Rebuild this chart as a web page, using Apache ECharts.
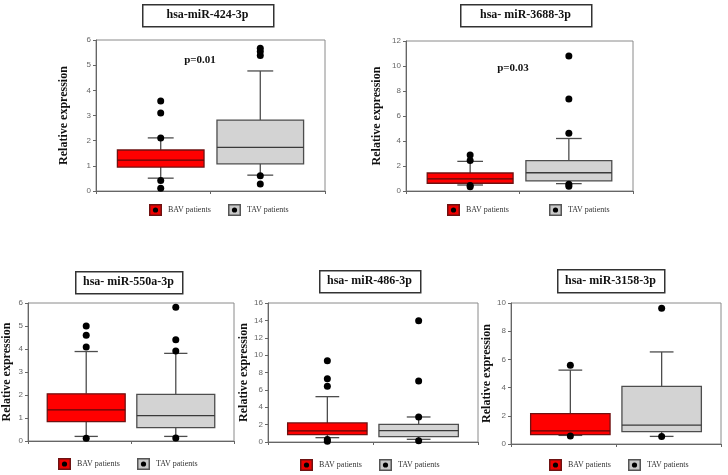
<!DOCTYPE html>
<html><head><meta charset="utf-8">
<script src="https://cdn.jsdelivr.net/npm/echarts@6/dist/echarts.min.js"></script>
<style>html,body{margin:0;padding:0;background:#fff}#c{width:728px;height:475px}</style>
</head><body><div id="c"></div>
<script>
// ---------------- DATA ----------------
const groups = ['BAV patients', 'TAV patients'];
const titles = ['hsa-miR-424-3p', 'hsa- miR-3688-3p', 'hsa- miR-550a-3p', 'hsa- miR-486-3p', 'hsa- miR-3158-3p'];
const pLabels = ['p=0.01', 'p=0.03', '', '', ''];
const yMax = [6, 12, 6, 16, 10];
const yStep = [1, 2, 1, 2, 2];
const yName = 'Relative expression';

// box stats: [lower whisker, Q1, median, Q3, upper whisker]
const bav424 = [0.51, 0.95, 1.23, 1.63, 2.11];
const tav424 = [0.63, 1.08, 1.73, 2.82, 4.77];
const bavOut424 = [3.58, 3.10, 2.11, 0.42, 0.11];
const tavOut424 = [5.67, 5.54, 5.38, 0.61, 0.28];

const bav3688 = [0.48, 0.62, 0.97, 1.44, 2.37];
const tav3688 = [0.59, 0.81, 1.46, 2.43, 4.20];
const bavOut3688 = [2.88, 2.45, 0.44, 0.34];
const tavOut3688 = [10.80, 7.36, 4.62, 0.55, 0.38];

const bav550 = [0.20, 0.84, 1.35, 2.05, 3.89];
const tav550 = [0.20, 0.58, 1.10, 2.03, 3.81];
const bavOut550 = [5.00, 4.60, 4.09, 0.12];
const tavOut550 = [5.82, 4.40, 3.91, 0.13];

const bav486 = [0.50, 0.84, 1.27, 2.20, 5.22];
const tav486 = [0.31, 0.61, 1.30, 2.03, 2.88];
const bavOut486 = [9.36, 7.29, 6.41, 0.30, 0.10];
const tavOut486 = [13.97, 7.02, 2.88, 0.15];

const bav3158 = [0.61, 0.66, 0.93, 2.15, 5.24];
const tav3158 = [0.54, 0.88, 1.34, 4.08, 6.53];
const bavOut3158 = [5.59, 0.57];
const tavOut3158 = [9.62, 0.54];

const panels = [
  { bav: bav424, tav: tav424, bavOut: bavOut424, tavOut: tavOut424 },
  { bav: bav3688, tav: tav3688, bavOut: bavOut3688, tavOut: tavOut3688 },
  { bav: bav550, tav: tav550, bavOut: bavOut550, tavOut: tavOut550 },
  { bav: bav486, tav: tav486, bavOut: bavOut486, tavOut: tavOut486 },
  { bav: bav3158, tav: tav3158, bavOut: bavOut3158, tavOut: tavOut3158 }
];

// ---------------- LAYOUT / STYLE ----------------
const layout = [
  { grid: { left: 96, top: 40, width: 229, height: 151 }, nameGap: 26, title: { x: 142, y: 4, w: 131, h: 22 }, p: { x: 200, y: 60 }, legend: [[149, 204], [228, 204]] },
  { grid: { left: 406, top: 41, width: 227, height: 150 }, nameGap: 23, title: { x: 460, y: 4, w: 131, h: 22 }, p: { x: 513, y: 68 }, legend: [[447, 204], [549, 204]] },
  { grid: { left: 28, top: 303, width: 206, height: 138 }, nameGap: 15, title: { x: 75, y: 271, w: 107, h: 22 }, legend: [[58, 458], [137, 458]] },
  { grid: { left: 268, top: 303, width: 210, height: 139 }, nameGap: 16, title: { x: 319, y: 270, w: 101, h: 22 }, legend: [[300, 459], [379, 459]] },
  { grid: { left: 511, top: 303, width: 210, height: 141 }, nameGap: 15, title: { x: 557, y: 269, w: 107, h: 23 }, legend: [[549, 459], [628, 459]] }
];
const BOX_W = 0.87, CAP_W = 0.26;
const boxStyle = [
  { fill: '#ff0000', stroke: '#6e1212', median: '#5a0a0a' },
  { fill: '#d3d3d3', stroke: '#4d4d4d', median: '#3a3a3a' }
];
const WHISKER = '#4d4d4d';
const serif = 'Liberation Serif, Times New Roman, serif';
const sans = 'Liberation Sans, Arial, sans-serif';

function svgIcon(fill, stroke) {
  const svg = "<svg xmlns='http://www.w3.org/2000/svg' width='13' height='12'>" +
    "<rect x='0.75' y='0.75' width='11.5' height='10.5' fill='" + fill + "' stroke='" + stroke + "' stroke-width='1.5'/>" +
    "<circle cx='6.5' cy='6' r='2.6' fill='#000'/></svg>";
  return 'image://data:image/svg+xml;charset=utf-8,' + encodeURIComponent(svg);
}
const icons = [svgIcon('#ee0000', '#6e1212'), svgIcon('#c8c8c8', '#555555')];

function renderBox(params, api) {
  const gi = api.value(0);
  const s = boxStyle[gi - 1];
  const pt = k => api.coord([gi, api.value(k)]);
  const lo = pt(1), q1 = pt(2), md = pt(3), q3 = pt(4), hi = pt(5);
  const bw = api.size([BOX_W, 0])[0];
  const cw = api.size([CAP_W, 0])[0];
  const cx = lo[0];
  const line = (x1, y1, x2, y2, c) => ({ type: 'line', shape: { x1, y1, x2, y2 }, style: { stroke: c, lineWidth: 1.3 } });
  return {
    type: 'group', children: [
      line(cx, hi[1], cx, q3[1], WHISKER),
      line(cx, q1[1], cx, lo[1], WHISKER),
      line(cx - cw / 2, hi[1], cx + cw / 2, hi[1], WHISKER),
      line(cx - cw / 2, lo[1], cx + cw / 2, lo[1], WHISKER),
      { type: 'rect', shape: { x: cx - bw / 2, y: q3[1], width: bw, height: q1[1] - q3[1] }, style: { fill: s.fill, stroke: s.stroke, lineWidth: 1.3 } },
      line(cx - bw / 2, md[1], cx + bw / 2, md[1], s.median)
    ]
  };
}

const grid = [], xAxis = [], yAxis = [], series = [], legend = [], graphic = [];
panels.forEach((pd, i) => {
  const L = layout[i];
  grid.push(Object.assign({ show: true, borderColor: '#8a8a8a', borderWidth: 1, backgroundColor: 'transparent' }, L.grid));
  xAxis.push({
    type: 'value', gridIndex: i, min: 0.35, max: 2.65, interval: 1.15,
    axisLabel: { show: false }, splitLine: { show: false },
    axisLine: { show: true, onZero: false, lineStyle: { color: '#666' } },
    axisTick: { show: true, length: 3, lineStyle: { color: '#666' } }
  });
  yAxis.push({
    type: 'value', gridIndex: i, min: 0, max: yMax[i], interval: yStep[i],
    name: yName, nameLocation: 'middle', nameRotate: 90, nameGap: L.nameGap,
    nameTextStyle: { fontFamily: serif, fontWeight: 'bold', fontSize: 12, color: '#111' },
    axisLine: { show: true, lineStyle: { color: '#666' } },
    axisTick: { show: true, length: 3, lineStyle: { color: '#666' } },
    axisLabel: { fontSize: 8, color: '#666', margin: 5, fontFamily: sans },
    splitLine: { show: false }
  });
  series.push({
    type: 'custom', name: titles[i], xAxisIndex: i, yAxisIndex: i,
    renderItem: renderBox, encode: { x: 0, y: [1, 2, 3, 4, 5] },
    data: [[1].concat(pd.bav), [2].concat(pd.tav)], z: 2, silent: true
  });
  [pd.bavOut, pd.tavOut].forEach((arr, g) => {
    series.push({
      type: 'scatter', name: groups[g], xAxisIndex: i, yAxisIndex: i,
      symbol: 'circle', symbolSize: 7, itemStyle: { color: '#000', opacity: 1 }, z: 5,
      data: arr.map(v => [g + 1, v])
    });
  });
  groups.forEach((gname, g) => {
    legend.push({
      left: L.legend[g][0], top: L.legend[g][1], padding: 0, itemWidth: 13, itemHeight: 12,
      selectedMode: false, data: [{ name: gname, icon: icons[g] }],
      itemGap: 6, textStyle: { fontFamily: serif, fontSize: 8, color: '#333', padding: [0, 0, 0, 1] }
    });
  });
  graphic.push({
    type: 'rect', left: L.title.x, top: L.title.y,
    shape: { width: L.title.w, height: L.title.h },
    style: { fill: '#fff', stroke: '#333', lineWidth: 1.5 }, z: 10
  });
  graphic.push({
    type: 'text', x: L.title.x + L.title.w / 2, y: L.title.y + L.title.h / 2,
    style: { text: titles[i], fill: '#111', font: 'bold 12px ' + serif, align: 'center', verticalAlign: 'middle' }, z: 11
  });
  if (pLabels[i]) {
    graphic.push({
      type: 'text', x: L.p.x, y: L.p.y,
      style: { text: pLabels[i], fill: '#111', font: 'bold 11px ' + serif, align: 'center', verticalAlign: 'middle' }, z: 11
    });
  }
});

const chart = echarts.init(document.getElementById('c'), null, { renderer: 'canvas' });
chart.setOption({ animation: false, backgroundColor: '#fff', grid, xAxis, yAxis, series, legend, graphic });
</script></body></html>
